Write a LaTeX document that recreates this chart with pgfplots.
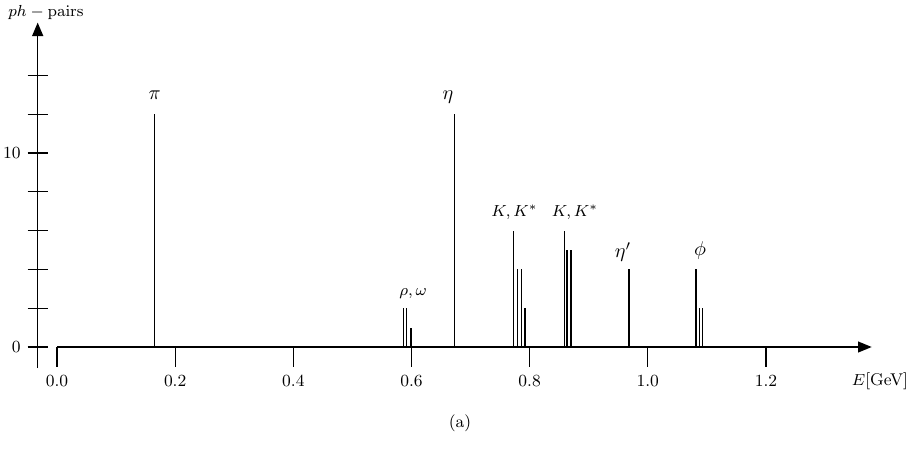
\documentclass[border=0pt]{standalone}
\usepackage{pgfplots}
\pgfplotsset{compat=1.18}
\usetikzlibrary{arrows.meta}
\begin{document}
\begin{tikzpicture}[font=\fontsize{8.5}{10}\selectfont]
\begin{axis}[
  x=295.4pt, y=9.7pt,
  xmin=-0.0965, xmax=1.4624, ymin=-5.412, ymax=17.887,
  hide axis, clip=false,
]
\coordinate (bl) at (axis cs:-0.0965,-5.412);
\coordinate (tr) at (axis cs:1.4624,17.887);
% data
\addplot[ycomb, line width=0.65pt, mark=none, black] table {
x y
0.165 12
0.587 2
0.591 2
0.599 1
0.673 12
0.773 6
0.780 4
0.786 4
0.792 2
0.859 6
0.863 5
0.870 5
0.968 4
1.0816 4
1.0873 2
1.0929 2
};
% axes
\draw[line width=0.65pt, -{Triangle[length=6.8pt,width=5.6pt]}] (axis cs:-0.0327,-1.082) -- (axis cs:-0.0327,16.72);
\draw[line width=0.65pt, -{Triangle[length=6.8pt,width=5.4pt]}] (axis cs:0,0) -- (axis cs:1.379,0);
\pgfplotsinvokeforeach{0,2,4,6,8,10,12,14}{
  \draw[line width=0.65pt] ([xshift=-5pt]axis cs:-0.0327,#1) -- ([xshift=5pt]axis cs:-0.0327,#1);
}
\pgfplotsinvokeforeach{0,0.2,0.4,0.6,0.8,1.0,1.2}{
  \draw[line width=0.65pt] (axis cs:#1,0) -- ([yshift=-10pt]axis cs:#1,0);
}
% tick labels
\node[anchor=east, inner sep=0pt] at (axis cs:-0.0609,0) {0};
\node[anchor=east, inner sep=0pt] at (axis cs:-0.0609,10) {10};
\node at (axis cs:0,-1.753) {0.0};
\node at (axis cs:0.2,-1.753) {0.2};
\node at (axis cs:0.4,-1.753) {0.4};
\node at (axis cs:0.6,-1.753) {0.6};
\node at (axis cs:0.8,-1.753) {0.8};
\node at (axis cs:1.0,-1.753) {1.0};
\node at (axis cs:1.2,-1.753) {1.2};
\node at (axis cs:1.393,-1.753) {$E$[GeV]};
\node[anchor=west, inner sep=0pt] at (axis cs:-0.0829,17.25) {$ph-\mathrm{pairs}$};
\node at (axis cs:0.682,-3.92) {(a)};
% peak labels
\node[font=\fontsize{10}{12}\selectfont] at (axis cs:0.1653,12.97) {$\pi$};
\node[font=\fontsize{10}{12}\selectfont] at (axis cs:0.6618,12.9) {$\eta$};
\node at (axis cs:0.6026,2.73) {$\rho,\omega$};
\node at (axis cs:0.7744,6.96) {$K,K^*$};
\node at (axis cs:0.8768,6.96) {$K,K^*$};
\node[font=\fontsize{10}{12}\selectfont] at (axis cs:0.958,4.9) {$\eta'$};
\node[font=\fontsize{10}{12}\selectfont] at (axis cs:1.0884,4.95) {$\phi$};
\end{axis}
\pgfresetboundingbox
\path (bl) rectangle (tr);
\end{tikzpicture}
\end{document}
